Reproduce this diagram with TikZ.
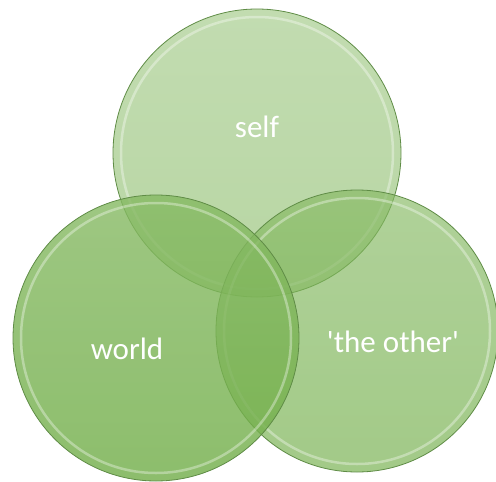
\documentclass[tikz,border=0pt]{standalone}
\usepackage{fontspec}
\setmainfont{Carlito}[Ligatures=TeXOff]
\begin{document}
\begin{tikzpicture}[x=1pt,y=-1pt,
  disc/.style={circle, inner sep=0pt, minimum size=#1, draw=discedge, line width=0.8pt},
  rim/.style={circle, inner sep=0pt, minimum size=#1, draw=white, draw opacity=0.35, line width=2.5pt},
  lbl/.style={text=white, font=\fontsize{31}{36}\selectfont}]
\definecolor{basegreen}{RGB}{112,173,71}
\definecolor{discedge}{RGB}{95,140,70}
\useasboundingbox (0,0) rectangle (496,482);
% top circle
\node[disc=288pt, top color=basegreen!85!white, bottom color=basegreen, fill opacity=0.5] (self) at (257,153) {};
\node[rim=272pt] (selfrim) at (self.center) {};
% right circle
\node[disc=282pt, top color=basegreen!85!white, bottom color=basegreen, fill opacity=0.65] (other) at (357,331) {};
\node[rim=266pt] (otherrim) at (other.center) {};
% left circle
\node[disc=286pt, top color=basegreen!85!white, bottom color=basegreen, fill opacity=0.8] (world) at (156,338) {};
\node[rim=270pt] (worldrim) at (world.center) {};
% labels
\node[lbl] (tself) at (257,127) {self};
\node[lbl] (tworld) at (127,349) {world};
\node[lbl] (tother) at (393,342) {'the other'};
\end{tikzpicture}
\end{document}
